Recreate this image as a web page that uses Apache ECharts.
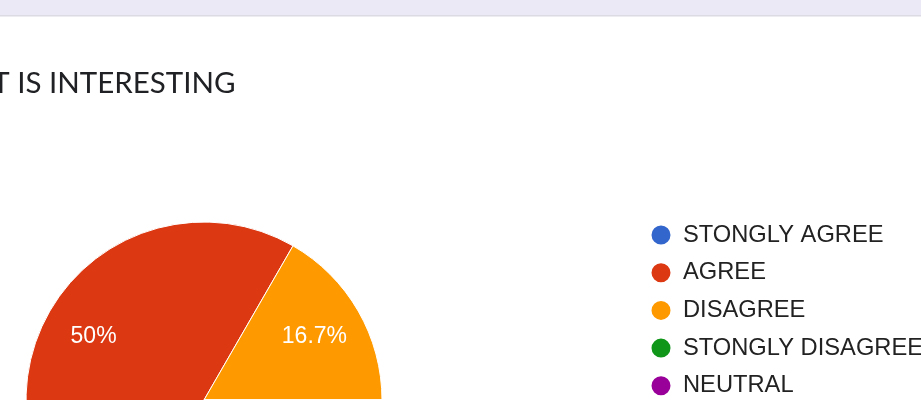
<!DOCTYPE html>
<html>
<head>
<meta charset="utf-8">
<script src="https://cdn.jsdelivr.net/npm/echarts@6/dist/echarts.min.js"></script>
<style>
  html, body { margin: 0; padding: 0; background: #fff; }
  #pie { width: 921px; height: 400px; }
</style>
</head>
<body>
<div id="pie"></div>
<script>
var categories = ['STONGLY AGREE', 'AGREE', 'DISAGREE', 'STONGLY DISAGREE', 'NEUTRAL'];
var counts = [2, 3, 1, 0, 0];
var colors = ['#3366cc', '#dc3912', '#ff9900', '#109618', '#990099'];

var myChart = echarts.init(document.getElementById('pie'));

var slices = categories.map(function (name, i) {
    return { name: name, value: counts[i], itemStyle: { color: colors[i] } };
});

option = {
    animation: false,
    title: {
        text: 'IT IS INTERESTING',
        left: -21,
        top: 63,
        textStyle: {
            fontFamily: 'Lato',
            fontSize: 29.5,
            fontWeight: 'normal',
            color: '#202124'
        }
    },
    graphic: [{
        type: 'rect',
        shape: { x: 0, y: 0, width: 921, height: 15 },
        style: { fill: '#ece9f7' },
        silent: true
    }, {
        type: 'rect',
        shape: { x: 0, y: 15, width: 921, height: 1.5 },
        style: { fill: '#dcdbe3' },
        silent: true
    }],
    legend: {
        orient: 'vertical',
        left: 644.5,
        top: 218,
        height: 300,
        icon: 'circle',
        itemWidth: 21,
        itemHeight: 21,
        itemGap: 13.7,
        data: categories.map(function (name, i) {
            return { name: name, itemStyle: { color: colors[i] } };
        }),
        textStyle: {
            fontFamily: 'Liberation Sans',
            fontSize: 23.7,
            lineHeight: 24,
            color: '#222',
            padding: [0, 0, 0, 6.5]
        }
    },
    series: [{
        name: 'IT IS INTERESTING',
        type: 'pie',
        center: [204, 400],
        radius: 178,
        startAngle: 0,
        clockwise: true,
        label: { show: false },
        labelLine: { show: false },
        itemStyle: { borderColor: '#fff', borderWidth: 1 },
        data: slices
    }, {
        // transparent ring, only used to place the percent labels at ~0.7r
        type: 'pie',
        silent: true,
        center: [204, 400],
        radius: [71, 178],
        startAngle: 0,
        clockwise: true,
        itemStyle: { color: 'rgba(0,0,0,0)' },
        label: {
            show: true,
            position: 'inside',
            fontFamily: 'Liberation Sans',
            fontSize: 23,
            color: '#fff',
            formatter: function (p) {
                if (!(p.value > 0)) return '';
                var pct = Math.round(p.percent * 10) / 10;
                return pct + '%';
            }
        },
        labelLine: { show: false },
        data: categories.map(function (name, i) {
            return { name: name, value: counts[i] };
        })
    }]
};

myChart.setOption(option);
</script>
</body>
</html>
